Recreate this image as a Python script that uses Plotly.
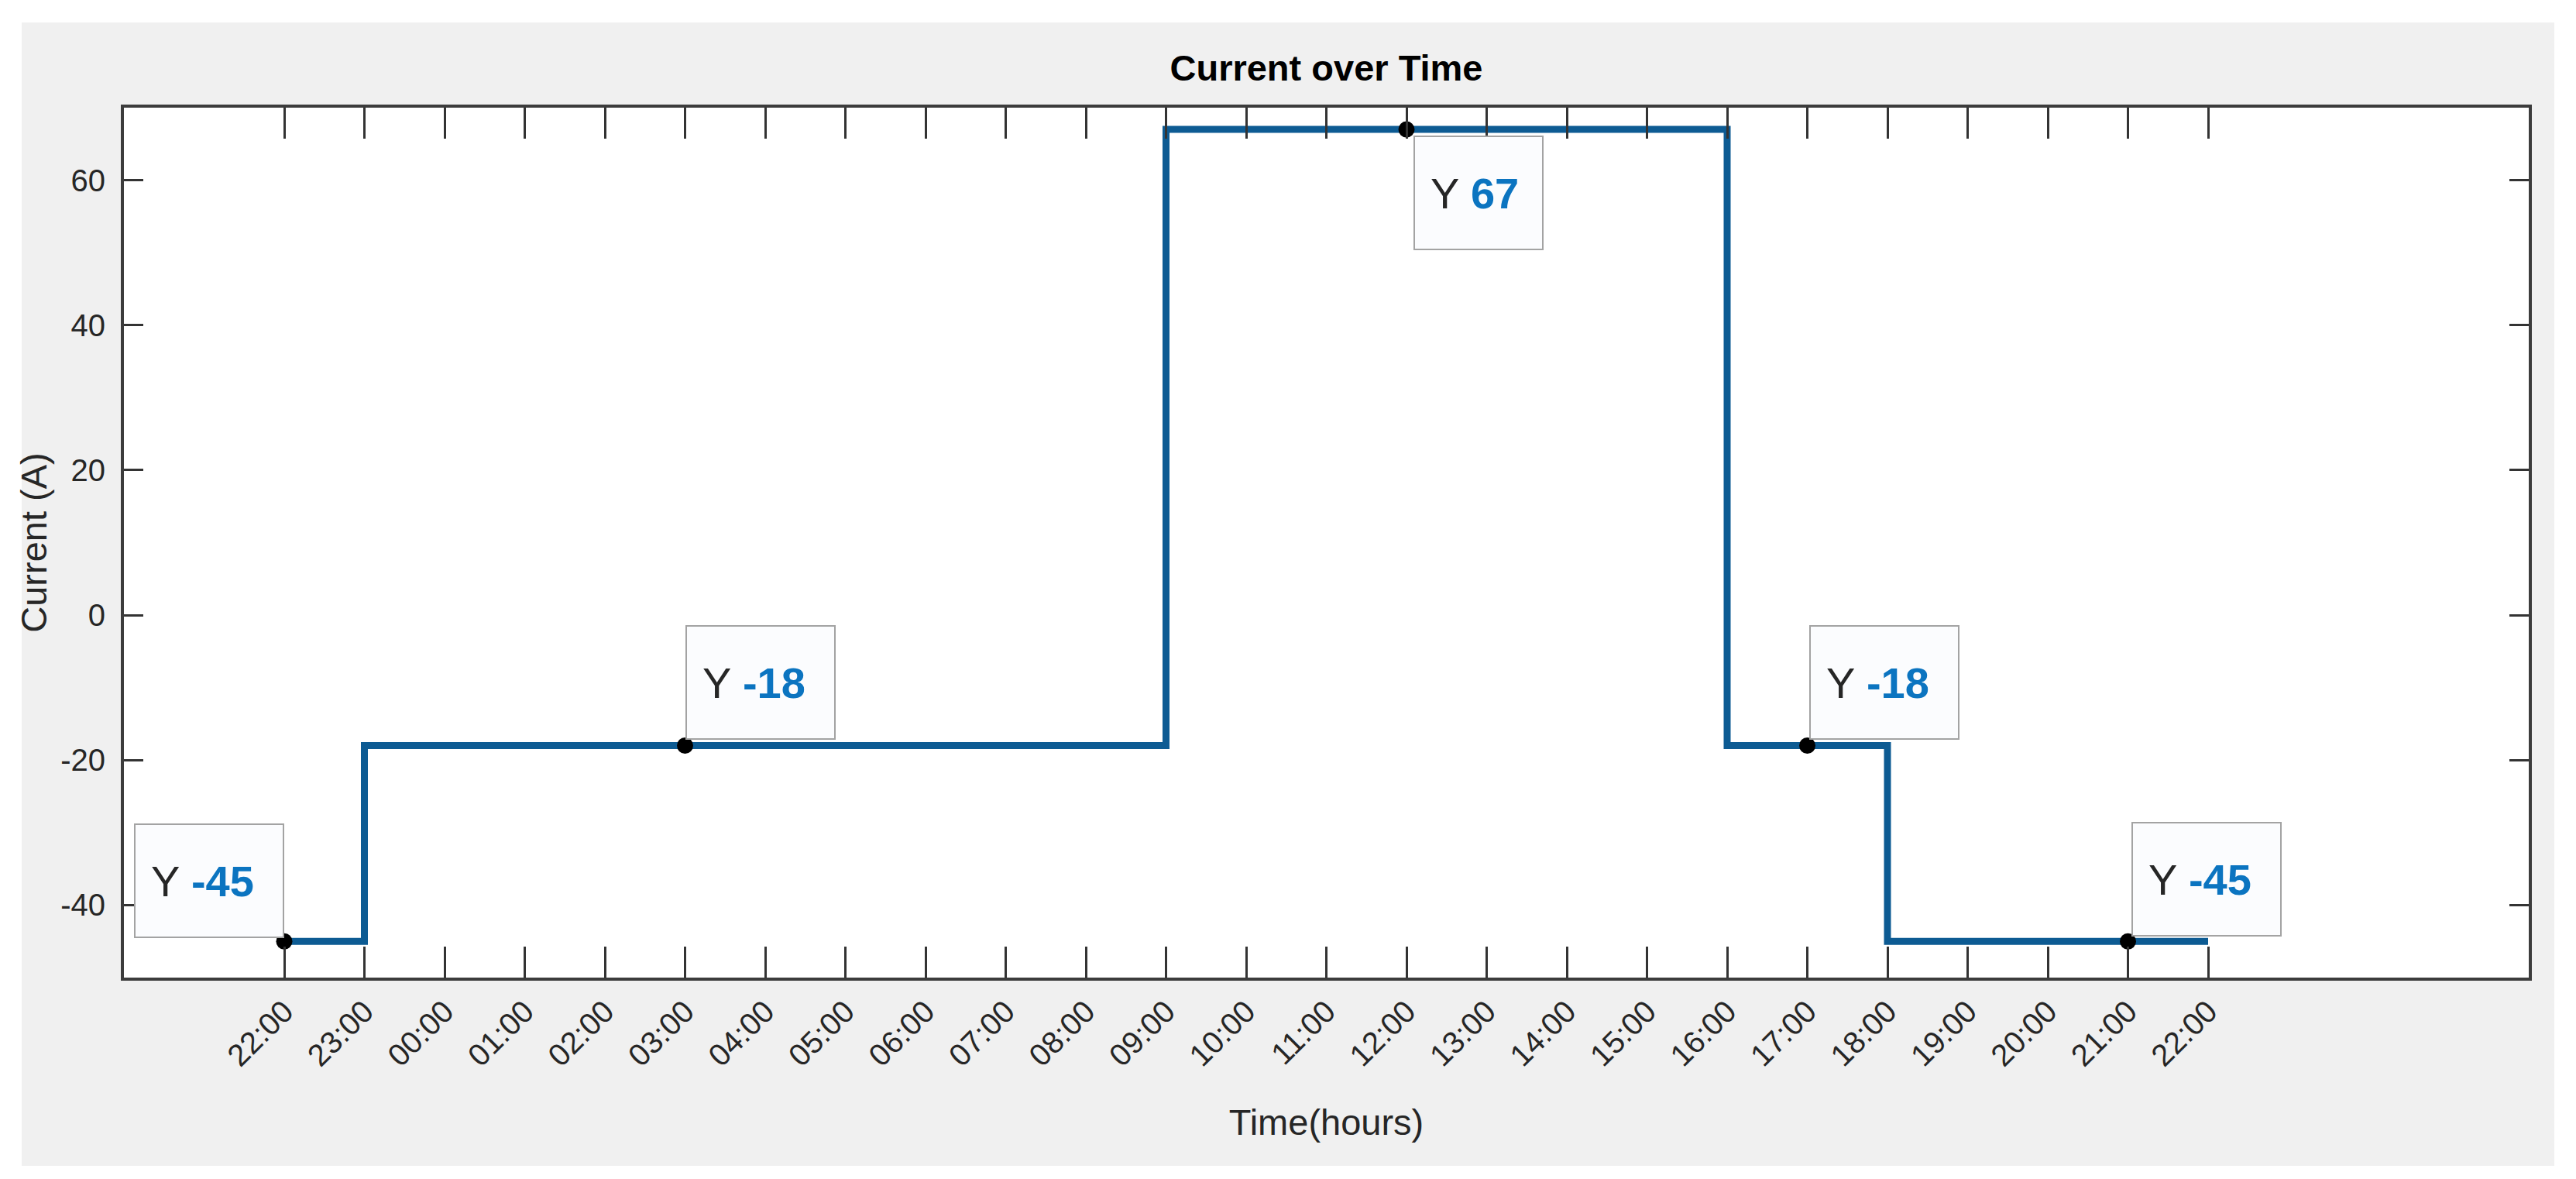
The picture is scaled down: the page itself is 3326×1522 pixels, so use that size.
import plotly.graph_objects as go
import pandas as pd

# ---- data ----
step_times = ["2024-01-01 22:00", "2024-01-01 23:00", "2024-01-02 09:00",
              "2024-01-02 16:00", "2024-01-02 18:00", "2024-01-02 22:00"]
step_current = [-45, -18, 67, -18, -45, -45]

tip_times = ["2024-01-01 22:00", "2024-01-02 03:00", "2024-01-02 12:00",
             "2024-01-02 17:00", "2024-01-02 21:00"]
tip_current = [-45, -18, 67, -18, -45]

tick_labels = ["22:00", "23:00", "00:00", "01:00", "02:00", "03:00", "04:00", "05:00",
               "06:00", "07:00", "08:00", "09:00", "10:00", "11:00", "12:00", "13:00",
               "14:00", "15:00", "16:00", "17:00", "18:00", "19:00", "20:00", "21:00", "22:00"]
y_ticks = [-40, -20, 0, 20, 40, 60]
y_tick_labels = ["-40", "-20", "0", "20", "40", "60"]

# ---- styling ----
FONT = "Liberation Sans, Arial, sans-serif"
LINE_COLOR = "#0d5b93"
VAL_COLOR = "#0b74c0"
W, H = 3326, 1522
L, R, T, B = 152, 69, 131, 268
PW, PH = W - L - R, H - T - B

tick_vals = pd.date_range(step_times[0], periods=len(tick_labels), freq="h")

fig = go.Figure()
fig.add_trace(go.Scatter(
    x=step_times, y=step_current, mode="lines", line_shape="hv",
    line=dict(color=LINE_COLOR, width=9), showlegend=False, hoverinfo="skip"))
fig.add_trace(go.Scatter(
    x=tip_times, y=tip_current, mode="markers",
    marker=dict(color="black", size=21), showlegend=False))

# data-tip boxes (anchor corner relative to the point)
tip_anchor = [("right", "bottom", 0, 4), ("left", "bottom", 0, 8), ("left", "top", 9, -8),
              ("left", "bottom", 2, 8), ("left", "bottom", 4, 6)]
for (t, v, (xa, ya, xs, ys)) in zip(tip_times, tip_current, tip_anchor):
    txt = f"Y <b><span style='color:{VAL_COLOR}'>{v}</span></b>"
    wid = 150 if v < 0 else 124
    fig.add_annotation(
        x=t, y=v, xref="x", yref="y", text=txt, showarrow=False,
        xanchor=xa, yanchor=ya, xshift=xs, yshift=ys, align="left",
        width=wid, height=104, borderpad=20, bgcolor="#fbfcfe",
        bordercolor="#a3a3a3", borderwidth=2,
        font=dict(family=FONT, size=56, color="#262626"))

# gray figure background panel, white plotting area on top of it
fig.add_shape(type="rect", xref="paper", yref="paper", layer="below",
              x0=(20 - L) / PW, x1=(3290 - L) / PW,
              y0=(H - B - 1497) / PH, y1=(H - B - 21) / PH,
              fillcolor="#f0f0f0", line=dict(width=0))
fig.add_shape(type="rect", xref="paper", yref="paper", layer="below",
              x0=0, x1=1, y0=0, y1=1, fillcolor="white", line=dict(width=0))

axis_common = dict(showline=True, linecolor="#3c3c3c", linewidth=4, mirror="allticks",
                   ticks="inside", tickcolor="#333333", tickwidth=3, showgrid=False,
                   zeroline=False, tickfont=dict(family=FONT, size=40, color="#262626"))

fig.update_xaxes(
    type="date", range=["2024-01-01 20:00", "2024-01-03 02:00"],
    tickvals=tick_vals, ticktext=tick_labels, tickangle=-45, ticklen=40,
    title=dict(text="Time(hours)", font=dict(family=FONT, size=47, color="#262626"), standoff=50),
    **axis_common)
fig.update_yaxes(
    range=[-50, 70], tickvals=y_ticks, ticktext=y_tick_labels, ticklen=25,
    ticklabelstandoff=12,
    title=dict(text="Current (A)", font=dict(family=FONT, size=47, color="#262626"), standoff=4),
    **axis_common)

fig.update_layout(
    width=W, height=H, margin=dict(l=L, r=R, t=T, b=B, autoexpand=False),
    paper_bgcolor="white", plot_bgcolor="white",
    title=dict(text="<b>Current over Time</b>", x=0.5, xref="paper", xanchor="center",
               y=1 - 80 / H, yref="container", yanchor="middle",
               font=dict(family=FONT, size=47, color="black")),
)

fig.write_html("out.html")
